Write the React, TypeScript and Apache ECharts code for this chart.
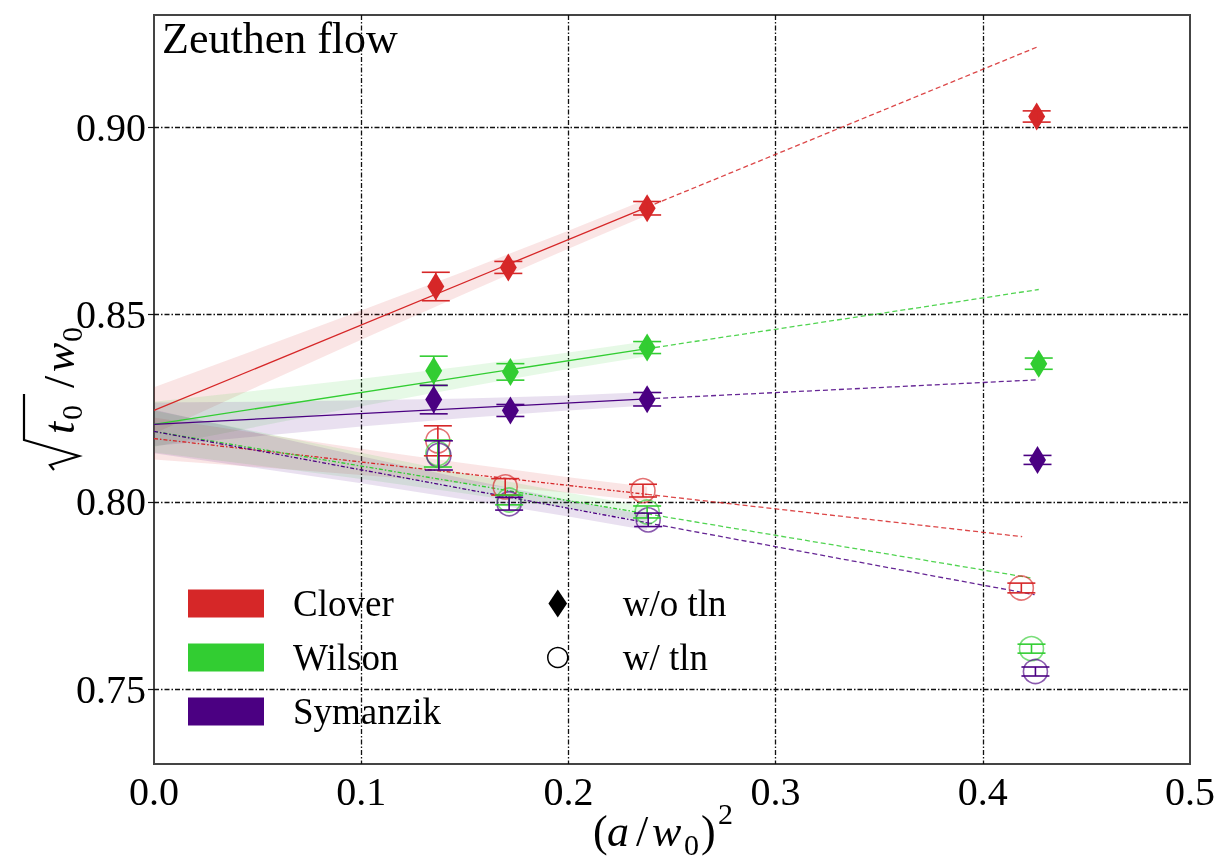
import React, { useEffect, useRef } from 'react';
import * as echarts from 'echarts';

const RED = '#d62728';
const GREEN = '#32cd32';
const PURPLE = '#4b0082';
const FONT = '"Liberation Serif", "Times New Roman", serif';

// x tick labels / y tick labels
const xTicks = [0, 0.1, 0.2, 0.3, 0.4, 0.5];
const yTicks = [0.75, 0.8, 0.85, 0.9];

// measurements [x, y, err]  — without tree-level normalisation (diamonds)
const cloverNoTln = [[0.136, 0.8575, 0.0038], [0.171, 0.8626, 0.0016], [0.238, 0.8784, 0.0018], [0.426, 0.9029, 0.0015]];
const wilsonNoTln = [[0.135, 0.835, 0.0039], [0.172, 0.8347, 0.0022], [0.238, 0.8412, 0.0016], [0.427, 0.8369, 0.0015]];
const symanzikNoTln = [[0.135, 0.8273, 0.0038], [0.172, 0.8244, 0.0016], [0.238, 0.8274, 0.0018], [0.4264, 0.8112, 0.0012]];
// with tree-level normalisation (open circles)
const cloverTln = [[0.137, 0.8163, 0.004], [0.1695, 0.804, 0.0022], [0.236, 0.803, 0.0017], [0.4186, 0.777, 0.0013]];
const wilsonTln = [[0.137, 0.8129, 0.0036], [0.1714, 0.8005, 0.0013], [0.238, 0.7973, 0.0016], [0.4235, 0.7608, 0.0012]];
const symanzikTln = [[0.1375, 0.8124, 0.0039], [0.1714, 0.7995, 0.0017], [0.2385, 0.7952, 0.0018], [0.4254, 0.7547, 0.0012]];

// fit lines: [x, y] at start, end of fit range, end of extrapolation
const cloverNoTlnFit = [[0, 0.8244], [0.238, 0.8787], [0.426, 0.9214]];
const wilsonNoTlnFit = [[0, 0.8207], [0.238, 0.8409], [0.427, 0.8567]];
const symanzikNoTlnFit = [[0, 0.8207], [0.238, 0.8275], [0.427, 0.8326]];
const cloverTlnFit = [[0, 0.8169], [0.238, 0.802], [0.419, 0.7907]];
const wilsonTlnFit = [[0, 0.8188], [0.238, 0.7968], [0.423, 0.7797]];
const symanzikTlnFit = [[0, 0.8188], [0.238, 0.7944], [0.425, 0.7752]];

// error bands of the fits
const bandX = [0, 0.05, 0.1, 0.15, 0.2, 0.238];
const cloverNoTlnLo = [0.8182, 0.8308, 0.8433, 0.8556, 0.8676, 0.8765];
const cloverNoTlnHi = [0.8306, 0.8408, 0.8511, 0.8616, 0.8724, 0.8809];
const wilsonNoTlnLo = [0.8147, 0.8201, 0.8255, 0.8306, 0.8355, 0.8389];
const wilsonNoTlnHi = [0.8267, 0.8297, 0.8329, 0.8362, 0.8399, 0.8429];
const symanzikNoTlnLo = [0.8149, 0.8175, 0.8201, 0.8224, 0.8244, 0.8257];
const symanzikNoTlnHi = [0.8265, 0.8267, 0.8271, 0.8276, 0.8284, 0.8293];
const cloverTlnLo = [0.8113, 0.8093, 0.8072, 0.8049, 0.8024, 0.8002];
const cloverTlnHi = [0.8225, 0.8183, 0.8142, 0.8103, 0.8066, 0.804];
const wilsonTlnLo = [0.8132, 0.8097, 0.8061, 0.8022, 0.7982, 0.7949];
const wilsonTlnHi = [0.8244, 0.8187, 0.8131, 0.8076, 0.8024, 0.7987];
const symanzikTlnLo = [0.813, 0.809, 0.805, 0.8006, 0.7961, 0.7924];
const symanzikTlnHi = [0.8246, 0.8184, 0.8122, 0.8062, 0.8005, 0.7964];

const actionNames = ['Clover', 'Wilson', 'Symanzik'];
const markerNames = ['w/o tln', 'w/ tln'];

function bandSeries(lo: number[], hi: number[], color: string) {
  return {
    type: 'custom',
    silent: true,
    z: 1,
    data: [[bandX[0], lo[0]]],
    renderItem: (params: any, api: any) => {
      const pts: number[][] = [];
      for (let i = 0; i < bandX.length; i++) pts.push(api.coord([bandX[i], hi[i]]));
      for (let i = bandX.length - 1; i >= 0; i--) pts.push(api.coord([bandX[i], lo[i]]));
      return { type: 'polygon', shape: { points: pts }, style: { fill: color, opacity: 0.12 } };
    },
  };
}

function errSeries(data: number[][], color: string) {
  return {
    type: 'custom',
    silent: true,
    z: 5,
    data,
    encode: { x: 0, y: 1 },
    renderItem: (params: any, api: any) => {
      const x = api.value(0);
      const y = api.value(1);
      const e = api.value(2);
      const t = api.coord([x, y + e]);
      const b = api.coord([x, y - e]);
      const w = 14;
      const st = { stroke: color, lineWidth: 1.6 };
      return {
        type: 'group',
        children: [
          { type: 'line', shape: { x1: t[0], y1: t[1], x2: b[0], y2: b[1] }, style: st },
          { type: 'line', shape: { x1: t[0] - w, y1: t[1], x2: t[0] + w, y2: t[1] }, style: st },
          { type: 'line', shape: { x1: b[0] - w, y1: b[1], x2: b[0] + w, y2: b[1] }, style: st },
        ],
      };
    },
  };
}

function fitSeries(fit: number[][], color: string, tln: boolean) {
  return [
    {
      type: 'line',
      data: fit.slice(0, 2),
      showSymbol: false,
      silent: true,
      z: 3,
      lineStyle: { color, width: 1.3, type: tln ? [4, 2, 1.5, 2] : 'solid' },
    },
    {
      type: 'line',
      data: fit.slice(1, 3),
      showSymbol: false,
      silent: true,
      z: 3,
      lineStyle: { color, width: 1.3, type: [5, 3], opacity: 0.85 },
    },
  ];
}

function diamondSeries(data: number[][], color: string) {
  return {
    type: 'scatter',
    data: data.map((d) => [d[0], d[1]]),
    symbol: 'diamond',
    symbolSize: [17, 28],
    z: 4,
    itemStyle: { color, opacity: 1 },
  };
}

function circleSeries(data: number[][], color: string) {
  return {
    type: 'scatter',
    data: data.map((d) => [d[0], d[1]]),
    symbol: 'circle',
    symbolSize: 24,
    z: 4,
    itemStyle: { color: 'rgba(0,0,0,0)', borderColor: color, borderWidth: 1.6, opacity: 0.65 },
  };
}

function txt(text: string, x: number, y: number, size: number, italic = false) {
  return {
    type: 'text',
    x,
    y,
    silent: true,
    style: {
      text,
      font: `${italic ? 'italic ' : ''}${size}px ${FONT}`,
      fill: '#000',
      align: 'left',
      verticalAlign: 'middle',
    },
  };
}

export default function App() {
  const ref = useRef<HTMLDivElement>(null);
  useEffect(() => {
    if (!ref.current) return;
    const chart = echarts.init(ref.current, undefined, { renderer: 'svg' });
    const colors = [RED, GREEN, PURPLE];
    const option: any = {
      animation: false,
      textStyle: { fontFamily: FONT },
      grid: {
        left: 154,
        right: 29,
        top: 15,
        bottom: 97,
        show: true,
        borderColor: '#444',
        borderWidth: 2,
        backgroundColor: 'transparent',
      },
      xAxis: {
        type: 'value',
        min: xTicks[0],
        max: xTicks[xTicks.length - 1],
        interval: 0.1,
        axisLine: { show: false },
        axisTick: { show: false },
        axisLabel: {
          fontSize: 40,
          fontFamily: FONT,
          color: '#000',
          margin: 7,
          formatter: (v: number) => v.toFixed(1),
        },
        splitLine: { show: true, showMinLine: false, showMaxLine: false, lineStyle: { color: '#111', width: 1.3, type: [5, 2, 1.5, 2] } },
      },
      yAxis: {
        type: 'value',
        min: 0.73,
        max: 0.93,
        axisLine: { show: false },
        axisTick: { show: true, customValues: yTicks, length: 6, lineStyle: { color: '#111', width: 1.2 } },
        axisLabel: {
          customValues: yTicks,
          fontSize: 40,
          fontFamily: FONT,
          color: '#000',
          margin: 8,
          formatter: (v: number) => v.toFixed(2),
        },
        splitLine: { show: true, lineStyle: { color: '#111', width: 1.3, type: [5, 2, 1.5, 2] } },
      },
      legend: [
        {
          data: actionNames.map((n) => ({ name: n, icon: 'rect' })),
          orient: 'vertical',
          left: 183,
          top: 580,
          itemWidth: 76,
          itemHeight: 28,
          itemGap: 17,
          selectedMode: false,
          textStyle: { fontSize: 37, fontFamily: FONT, color: '#000', padding: [0, 0, 0, 24] },
        },
        {
          data: [
            { name: markerNames[0], icon: 'path://M10,0 L20,15 L10,30 L0,15 Z', itemStyle: { color: '#000', opacity: 1 } },
            { name: markerNames[1], icon: 'circle', itemStyle: { color: '#fff', borderColor: '#000', borderWidth: 1.5, opacity: 1 } },
          ],
          orient: 'vertical',
          left: 542,
          top: 580,
          itemWidth: 20,
          itemHeight: 28,
          itemGap: 17,
          selectedMode: false,
          textStyle: { fontSize: 37, fontFamily: FONT, color: '#000', padding: [0, 0, 0, 50] },
        },
      ],
      graphic: [
        {
          type: 'text',
          left: 162,
          top: 16,
          silent: true,
          style: { text: 'Zeuthen flow', font: `44px ${FONT}`, fill: '#000' },
        },
        // x axis label (a/w0)^2
        txt('(', 593, 831, 44),
        txt('a', 607, 831, 44, true),
        txt('/', 636, 831, 44),
        txt('w', 652, 831, 44, true),
        txt('0', 684, 844, 30),
        txt(')', 701, 831, 44),
        txt('2', 718, 813, 30),
        // y axis label sqrt(t0)/w0
        {
          type: 'group',
          x: 74,
          y: 470,
          rotation: Math.PI / 2,
          silent: true,
          children: [
            {
              type: 'polyline',
              shape: { points: [[0, -20], [5, -24], [14, 5], [30, -50], [76, -50]] },
              style: { stroke: '#000', lineWidth: 2.2, fill: null },
            },
            txt('t', 36, -15, 44, true),
            txt('0', 50, -3, 30),
            txt('/', 82, -15, 44),
            txt('w', 98, -15, 44, true),
            txt('0', 128, -3, 30),
          ],
        },
      ],
      series: [
        bandSeries(cloverNoTlnLo, cloverNoTlnHi, RED),
        bandSeries(wilsonNoTlnLo, wilsonNoTlnHi, GREEN),
        bandSeries(symanzikNoTlnLo, symanzikNoTlnHi, PURPLE),
        bandSeries(cloverTlnLo, cloverTlnHi, RED),
        bandSeries(wilsonTlnLo, wilsonTlnHi, GREEN),
        bandSeries(symanzikTlnLo, symanzikTlnHi, PURPLE),
        ...fitSeries(cloverNoTlnFit, RED, false),
        ...fitSeries(wilsonNoTlnFit, GREEN, false),
        ...fitSeries(symanzikNoTlnFit, PURPLE, false),
        ...fitSeries(cloverTlnFit, RED, true),
        ...fitSeries(wilsonTlnFit, GREEN, true),
        ...fitSeries(symanzikTlnFit, PURPLE, true),
        diamondSeries(cloverNoTln, RED),
        diamondSeries(wilsonNoTln, GREEN),
        diamondSeries(symanzikNoTln, PURPLE),
        circleSeries(cloverTln, RED),
        circleSeries(wilsonTln, GREEN),
        circleSeries(symanzikTln, PURPLE),
        errSeries(cloverNoTln, RED),
        errSeries(wilsonNoTln, GREEN),
        errSeries(symanzikNoTln, PURPLE),
        errSeries(cloverTln, RED),
        errSeries(wilsonTln, GREEN),
        errSeries(symanzikTln, PURPLE),
        // legend-only series
        ...actionNames.map((n, i) => ({ type: 'line', name: n, data: [], itemStyle: { color: colors[i] } })),
        { type: 'scatter', name: markerNames[0], data: [], itemStyle: { color: '#000', opacity: 1 } },
        { type: 'scatter', name: markerNames[1], data: [], itemStyle: { color: '#fff', borderColor: '#000', opacity: 1 } },
      ],
    };
    chart.setOption(option);
    return () => chart.dispose();
  }, []);
  return <div ref={ref} style={{ position: 'fixed', left: 0, top: 0, width: 1219, height: 861 }} />;
}
